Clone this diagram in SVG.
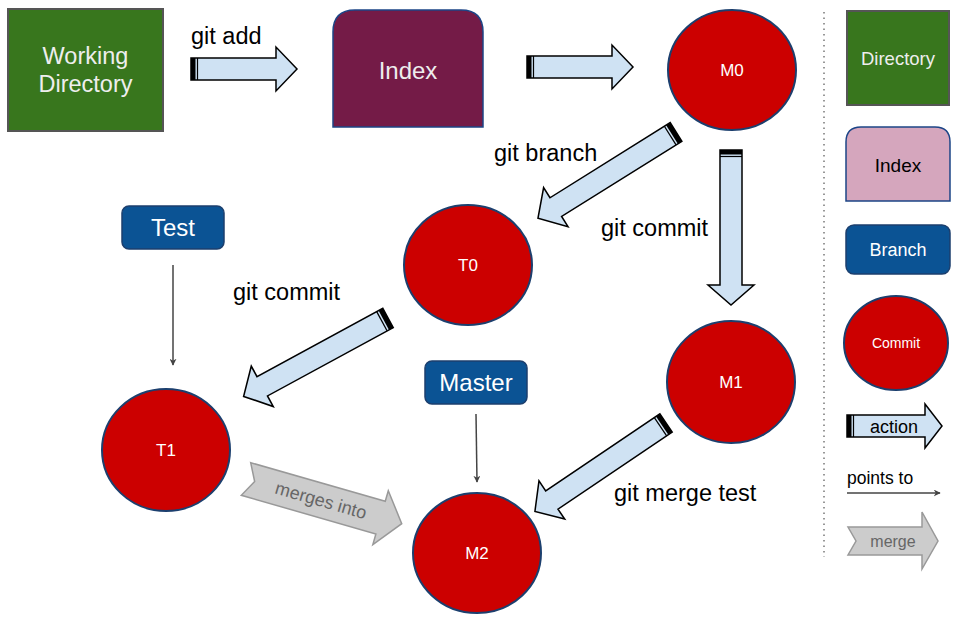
<svg xmlns="http://www.w3.org/2000/svg" width="961" height="623" viewBox="0 0 961 623">
<style>
text{font-family:"Liberation Sans",Arial,sans-serif}
.lbl{font-size:23.5px;fill:#000}
.commit{fill:#cc0000;stroke:#1c3f6e;stroke-width:2}
.ctext{font-size:17px;fill:#fff;text-anchor:middle}
.branch{fill:#0b5394;stroke:#1c3f6e;stroke-width:1.5}
.btext{font-size:24px;fill:#fff;text-anchor:middle}
.act{fill:#cfe2f3;stroke:#000;stroke-width:1.5;stroke-linejoin:miter}
.mrg{fill:#cccccc;stroke:#999;stroke-width:1.5}
.ptr{stroke:#444;stroke-width:1.5;fill:none}
</style>
<defs>
<marker id="ah" viewBox="0 0 10 10" refX="9" refY="5" markerWidth="7" markerHeight="7" orient="auto" markerUnits="userSpaceOnUse">
<path d="M0,0 L10,5 L0,10 L3,5 Z" fill="#444"/>
</marker>
<g id="actArrow">
<path class="act" d="M0,-11 H135 V-23 L155,0 L135,23 V11 H0 Z"/>
<rect x="0" y="-11" width="4.5" height="22" fill="#000"/>
<line x1="6.5" y1="-11" x2="6.5" y2="11" stroke="#000" stroke-width="1.2"/>
</g>
<g id="actArrowShort">
<path class="act" d="M0,-11 H85 V-22 L106,0 L85,22 V11 H0 Z"/>
<rect x="0" y="-11" width="4.5" height="22" fill="#000"/>
<line x1="6.5" y1="-11" x2="6.5" y2="11" stroke="#000" stroke-width="1.2"/>
</g>
</defs>

<g id="working-directory">
<rect x="8" y="9" width="155" height="122" fill="#38761d" stroke="#555" stroke-width="2"/>
<text x="85.5" y="64" font-size="23.5" fill="#eeeeee" text-anchor="middle">Working</text>
<text x="85.5" y="92" font-size="23.5" fill="#eeeeee" text-anchor="middle">Directory</text>
</g>

<g id="index">
<path d="M333,127 V32 Q333,10 355,10 H461 Q483,10 483,32 V127 Z" fill="#741b47" stroke="#1c4587" stroke-width="1.5"/>
<text x="408" y="79" font-size="24" fill="#eeeeee" text-anchor="middle">Index</text>
</g>

<g id="M0">
<ellipse class="commit" cx="732" cy="70" rx="64" ry="60"/>
<text class="ctext" x="732" y="76">M0</text>
</g>
<g id="T0">
<ellipse class="commit" cx="468" cy="265" rx="64" ry="60"/>
<text class="ctext" x="468" y="271">T0</text>
</g>
<g id="M1">
<ellipse class="commit" cx="731" cy="382" rx="64" ry="61"/>
<text class="ctext" x="731" y="388">M1</text>
</g>
<g id="T1">
<ellipse class="commit" cx="166" cy="450" rx="64" ry="61"/>
<text class="ctext" x="166" y="456">T1</text>
</g>
<g id="M2">
<ellipse class="commit" cx="477" cy="553" rx="64" ry="60"/>
<text class="ctext" x="477" y="559">M2</text>
</g>

<g id="test">
<rect class="branch" x="122" y="206" width="102" height="43" rx="7"/>
<text class="btext" x="173" y="236">Test</text>
</g>
<g id="master">
<rect class="branch" x="425" y="361" width="102" height="43" rx="7"/>
<text class="btext" x="476" y="391">Master</text>
</g>

<g id="connectors">
<g transform="translate(191,69)"><use href="#actArrowShort"/></g>
<g transform="translate(527,67)"><use href="#actArrowShort"/></g>
<g transform="translate(676,132) rotate(148) scale(1.05,1)"><use href="#actArrow"/></g>
<g transform="translate(731,150) rotate(90)"><use href="#actArrow"/></g>
<g transform="translate(388,318) rotate(151.5) scale(1.06,1)"><use href="#actArrow"/></g>
<g transform="translate(666,423) rotate(146) scale(1.02,1)"><use href="#actArrow"/></g>
<line class="ptr" x1="173" y1="265" x2="173" y2="365" marker-end="url(#ah)"/>
<line class="ptr" x1="476" y1="414" x2="477" y2="482" marker-end="url(#ah)"/>
<g transform="translate(246,479) rotate(16)">
<path class="mrg" d="M0,-17 H140 V-28 L162,0 L140,28 V17 H0 L9,0 Z"/>
<text x="78" y="6" font-size="18" fill="#666" text-anchor="middle">merges into</text>
</g>
</g>

<g id="edge-labels">
<text class="lbl" x="191" y="44">git add</text>
<text class="lbl" x="494" y="161">git branch</text>
<text class="lbl" x="601" y="236">git commit</text>
<text class="lbl" x="233" y="300">git commit</text>
<text class="lbl" x="614" y="501">git merge test</text>
</g>

<g id="legend">
<line x1="824" y1="12" x2="824" y2="557" stroke="#777" stroke-width="1.5" stroke-dasharray="1.5,4"/>
<g id="legend-directory">
<rect x="847" y="11" width="102" height="94" fill="#38761d" stroke="#555" stroke-width="2"/>
<text x="898" y="65" font-size="18.5" fill="#eeeeee" text-anchor="middle">Directory</text>
</g>
<g id="legend-index">
<path d="M846,201 V142 Q846,127 861,127 H935 Q950,127 950,142 V201 Z" fill="#d5a6bd" stroke="#1c4587" stroke-width="1.5"/>
<text x="898" y="172" font-size="19" fill="#000" text-anchor="middle">Index</text>
</g>
<g id="legend-branch">
<rect class="branch" x="846" y="225" width="104" height="49" rx="8"/>
<text x="898" y="256" font-size="18" fill="#fff" text-anchor="middle">Branch</text>
</g>
<g id="legend-commit">
<ellipse class="commit" cx="896" cy="343" rx="52" ry="47"/>
<text x="896" y="348" font-size="14" fill="#fff" text-anchor="middle">Commit</text>
</g>
<g id="legend-action">
<path class="act" d="M847,415 H925 V404 L942,426 L925,448 V437 H847 Z"/>
<rect x="847" y="415" width="4.5" height="22" fill="#000"/>
<line x1="853.5" y1="415" x2="853.5" y2="437" stroke="#000" stroke-width="1.2"/>
<text x="894" y="433" font-size="18" fill="#000" text-anchor="middle">action</text>
</g>
<g id="legend-points">
<text x="847" y="484" font-size="17.5" fill="#000">points to</text>
<line class="ptr" x1="847" y1="493" x2="940" y2="493" marker-end="url(#ah)"/>
</g>
<g id="legend-merge">
<path class="mrg" d="M848,527 H922 V512 L938,541 L922,569 V555 H848 L856,541 Z"/>
<text x="893" y="547" font-size="16" fill="#666" text-anchor="middle">merge</text>
</g>
</g>
</svg>
